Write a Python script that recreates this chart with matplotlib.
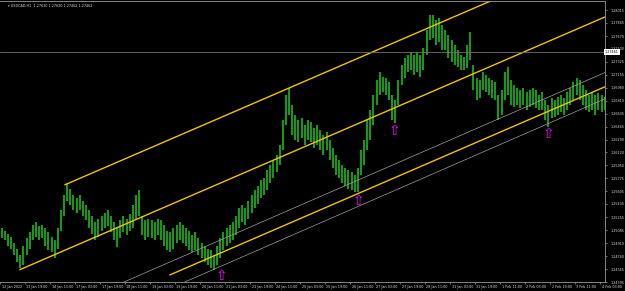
import numpy as np
import matplotlib
matplotlib.use("Agg")
import matplotlib.pyplot as plt
import matplotlib.transforms as mtrans

symbol_info = "USDCAD,H1  1.27630 1.27630 1.27462 1.27462"
bid_price = 1.27461

# high / low of every pair of H1 bars
highs = [1.2511, 1.2508, 1.2503, 1.2500, 1.2492, 1.2484, 1.2475, 1.2488, 1.2498, 1.2506,
         1.2515, 1.2519, 1.2514, 1.2516, 1.2511, 1.2506, 1.2500, 1.2495, 1.2511, 1.2535,
         1.2555, 1.2571, 1.2564, 1.2555, 1.2552, 1.2555, 1.2548, 1.2542, 1.2535, 1.2528,
         1.2519, 1.2524, 1.2528, 1.2532, 1.2535, 1.2528, 1.2519, 1.2511, 1.2522, 1.2528,
         1.2524, 1.2530, 1.2542, 1.2555, 1.2562, 1.2528, 1.2522, 1.2524, 1.2522, 1.2519,
         1.2524, 1.2522, 1.2515, 1.2508, 1.2506, 1.2511, 1.2515, 1.2519, 1.2515, 1.2511,
         1.2508, 1.2502, 1.2506, 1.2498, 1.2492, 1.2488, 1.2484, 1.2482, 1.2475, 1.2488,
         1.2498, 1.2506, 1.2511, 1.2515, 1.2519, 1.2528, 1.2538, 1.2542, 1.2538, 1.2548,
         1.2555, 1.2562, 1.2568, 1.2575, 1.2578, 1.2588, 1.2595, 1.2602, 1.2608, 1.2622,
         1.2655, 1.2688, 1.2698, 1.2675, 1.2662, 1.2655, 1.2658, 1.2648, 1.2655, 1.2652,
         1.2644, 1.2648, 1.2642, 1.2635, 1.2639, 1.2628, 1.2618, 1.2608, 1.2602, 1.2595,
         1.2591, 1.2588, 1.2586, 1.2582, 1.2591, 1.2615, 1.2628, 1.2655, 1.2668, 1.2688,
         1.2708, 1.2719, 1.2712, 1.2711, 1.2706, 1.2688, 1.2682, 1.2708, 1.2728, 1.2738,
         1.2742, 1.2746, 1.2742, 1.2746, 1.2742, 1.2751, 1.2775, 1.2795, 1.2795, 1.2788,
         1.2791, 1.2782, 1.2775, 1.2768, 1.2762, 1.2755, 1.2748, 1.2742, 1.2739, 1.2755,
         1.2772, 1.2728, 1.2711, 1.2708, 1.2719, 1.2715, 1.2711, 1.2708, 1.2706, 1.2688,
         1.2695, 1.2719, 1.2726, 1.2708, 1.2702, 1.2698, 1.2695, 1.2698, 1.2692, 1.2695,
         1.2698, 1.2695, 1.2688, 1.2692, 1.2682, 1.2675, 1.2684, 1.2682, 1.2686, 1.2688,
         1.2684, 1.2692, 1.2698, 1.2706, 1.2711, 1.2708, 1.2702, 1.2695, 1.2688, 1.2692,
         1.2688, 1.2691, 1.2688, 1.2686]
lows = [1.2498, 1.2495, 1.2488, 1.2484, 1.2475, 1.2466, 1.2458, 1.2462, 1.2475, 1.2484,
        1.2495, 1.2500, 1.2495, 1.2498, 1.2488, 1.2482, 1.2479, 1.2472, 1.2484, 1.2508,
        1.2528, 1.2548, 1.2542, 1.2535, 1.2532, 1.2535, 1.2528, 1.2522, 1.2511, 1.2504,
        1.2495, 1.2500, 1.2508, 1.2511, 1.2514, 1.2506, 1.2495, 1.2486, 1.2498, 1.2506,
        1.2502, 1.2508, 1.2511, 1.2522, 1.2528, 1.2502, 1.2495, 1.2500, 1.2498, 1.2495,
        1.2502, 1.2495, 1.2488, 1.2482, 1.2479, 1.2484, 1.2491, 1.2495, 1.2492, 1.2487,
        1.2482, 1.2479, 1.2482, 1.2475, 1.2471, 1.2466, 1.2462, 1.2458, 1.2455, 1.2462,
        1.2471, 1.2482, 1.2488, 1.2492, 1.2495, 1.2502, 1.2511, 1.2519, 1.2515, 1.2524,
        1.2532, 1.2538, 1.2544, 1.2551, 1.2555, 1.2562, 1.2572, 1.2578, 1.2586, 1.2595,
        1.2615, 1.2648, 1.2662, 1.2635, 1.2628, 1.2626, 1.2631, 1.2622, 1.2628, 1.2626,
        1.2618, 1.2622, 1.2615, 1.2608, 1.2615, 1.2602, 1.2591, 1.2582, 1.2578, 1.2572,
        1.2568, 1.2564, 1.2562, 1.2559, 1.2559, 1.2582, 1.2595, 1.2615, 1.2628, 1.2648,
        1.2675, 1.2688, 1.2692, 1.2688, 1.2682, 1.2655, 1.2651, 1.2675, 1.2702, 1.2711,
        1.2719, 1.2722, 1.2715, 1.2719, 1.2712, 1.2722, 1.2742, 1.2762, 1.2764, 1.2755,
        1.2759, 1.2748, 1.2748, 1.2738, 1.2732, 1.2728, 1.2726, 1.2722, 1.2722, 1.2724,
        1.2735, 1.2695, 1.2682, 1.2684, 1.2695, 1.2692, 1.2688, 1.2684, 1.2682, 1.2655,
        1.2662, 1.2682, 1.2688, 1.2675, 1.2672, 1.2675, 1.2671, 1.2675, 1.2668, 1.2672,
        1.2675, 1.2671, 1.2668, 1.2668, 1.2655, 1.2646, 1.2658, 1.2659, 1.2662, 1.2666,
        1.2662, 1.2668, 1.2675, 1.2682, 1.2688, 1.2682, 1.2675, 1.2668, 1.2666, 1.2668,
        1.2662, 1.2668, 1.2666, 1.2668]

time_labels = ["12 Jan 2022", "13 Jan 19:00", "14 Jan 11:00", "17 Jan 03:00", "17 Jan 19:00",
               "18 Jan 11:00", "19 Jan 03:00", "19 Jan 19:00", "20 Jan 11:00", "21 Jan 03:00",
               "21 Jan 19:00", "24 Jan 11:00", "25 Jan 03:00", "25 Jan 19:00", "26 Jan 11:00",
               "27 Jan 03:00", "27 Jan 19:00", "28 Jan 11:00", "31 Jan 03:00", "31 Jan 19:00",
               "1 Feb 11:00", "2 Feb 03:00", "2 Feb 19:00", "3 Feb 11:00", "4 Feb 03:00"]
price_labels = [1.28015, 1.27845, 1.27670, 1.27500, 1.27325, 1.27155, 1.26980, 1.26810,
                1.26635, 1.26465, 1.26290, 1.26120, 1.25950, 1.25775, 1.25605, 1.25435,
                1.25255, 1.25085, 1.24910, 1.24740, 1.24565, 1.24395]

# trend lines as (bar0, price0, bar1, price1)
gold_lines = [(41.6, 1.2569, 387.8, 1.2880),
              (12.8, 1.2456, 387.8, 1.2793),
              (108.8, 1.2449, 387.8, 1.2700)]
silver_lines = [(70.0, 1.2431, 387.8, 1.2719),
                (110.0, 1.2432, 387.8, 1.2684)]
arrow_bars = [141.4, 229.1, 252.2, 350.7]
arrow_prices = [1.2447, 1.2548, 1.2641, 1.2636]

W, H = 625, 291
fig = plt.figure(figsize=(W / 100, H / 100), dpi=100, facecolor="black")
ax = fig.add_axes([0, (H - 282) / H, 605 / W, 281 / H])
ax.set_facecolor("black")

bars = np.arange(len(highs)) * 2 + 1
ax.vlines(bars, lows, highs, color="#1a961a", lw=1.5)

for b0, p0, b1, p1 in gold_lines:
    ax.plot([b0, b1], [p0, p1], color="#f0c400", lw=1.0)
for b0, p0, b1, p1 in silver_lines:
    ax.plot([b0, b1], [p0, p1], color="#a0a0a0", lw=0.5)
ax.axhline(bid_price, color="#707070", lw=0.6)

for b, p in zip(arrow_bars, arrow_prices):
    ax.text(b, p, "\u21e7", color="#ff00ff", fontsize=10, ha="center", va="center")

ax.set_xlim(0, 605 / 1.5625)
ax.set_ylim(1.2440, 1.28137)

ax.spines["left"].set_visible(False)
for s in ["right", "bottom", "top"]:
    ax.spines[s].set_color("#9a9a9a")
    ax.spines[s].set_linewidth(0.6)

ax.yaxis.tick_right()
ax.set_yticks(price_labels)
ax.set_yticklabels([f"{p:.5f}" for p in price_labels])
ax.set_xticks(np.arange(len(time_labels)) * 16)
ax.set_xticklabels(time_labels)
ax.tick_params(axis="both", colors="#9a9a9a", labelcolor="#d8d8d8", labelsize=2.4,
               length=1.5, width=0.5, direction="out")
ax.tick_params(axis="y", pad=2.5)
ax.tick_params(axis="x", pad=1.0)
off = mtrans.ScaledTranslation(1.5 / 100, 0, fig.dpi_scale_trans)
for lab in ax.get_xticklabels():
    lab.set_ha("left")
    lab.set_transform(lab.get_transform() + off)

# bid price box on the price scale
ax.text(1.0, bid_price, f"{bid_price:.5f}", transform=ax.get_yaxis_transform(),
        fontsize=2.4, color="black", ha="left", va="center",
        bbox=dict(boxstyle="square,pad=0.3", fc="white", ec="white", lw=0), clip_on=False)
ax.text(0.012, 0.985, "\u25be " + symbol_info, transform=fig.transFigure, fontsize=2.4,
        color="#d8d8d8", ha="left", va="top")

fig.savefig("out.png", dpi=100, facecolor="black")
